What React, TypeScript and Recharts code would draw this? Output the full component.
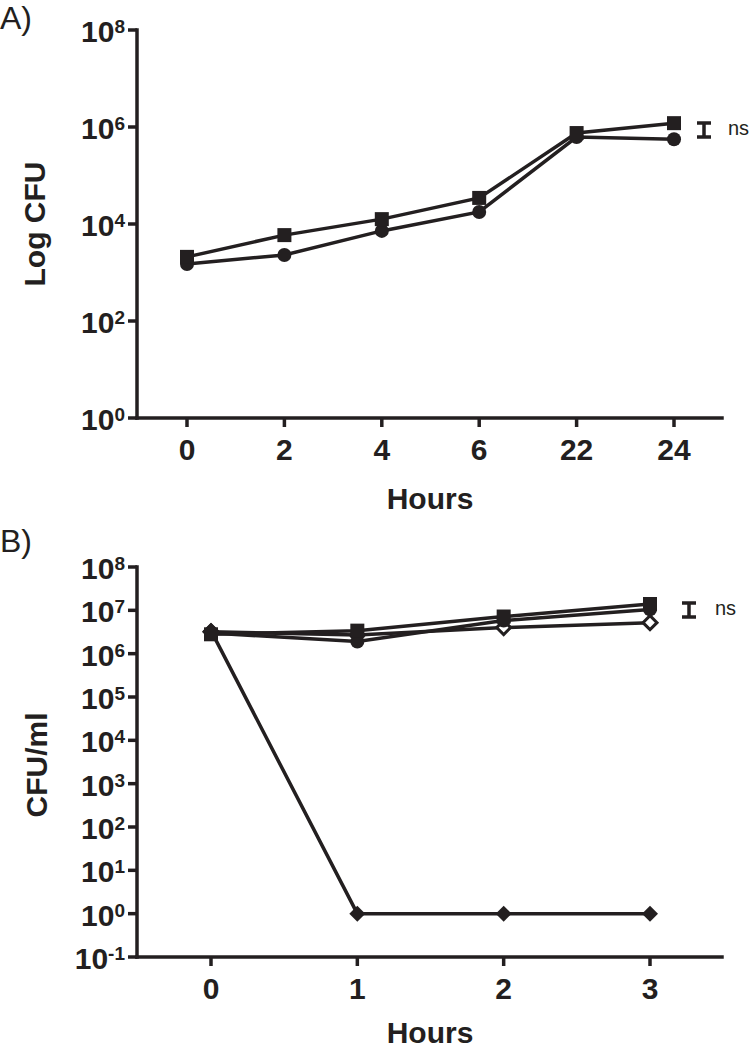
import React from "react";
import { LineChart, Line, XAxis, YAxis } from "recharts";

// panel A: growth over time
const hoursA = ["0", "2", "4", "6", "22", "24"];
const squaresA = [2100, 5900, 12600, 34500, 750000, 1200000];
const circlesA = [1500, 2300, 7200, 17700, 620000, 560000];
const ticksA = [1, 1e2, 1e4, 1e6, 1e8];

// panel B: killing assay
const hoursB = ["0", "1", "2", "3"];
const squaresB = [2.8e6, 3.4e6, 7.2e6, 1.4e7];
const circlesB = [3.0e6, 1.9e6, 5.8e6, 1.05e7];
const openDiamondsB = [3.2e6, 2.7e6, 4.0e6, 5.2e6];
const filledDiamondsB = [3.4e6, 1, 1, 1];
const ticksB = [0.1, 1, 10, 1e2, 1e3, 1e4, 1e5, 1e6, 1e7, 1e8];

const ink = "#231f20";
const font = "'Liberation Sans', Arial, Helvetica, sans-serif";

const dataA = hoursA.map((h, i) => ({ hour: h, sq: squaresA[i], ci: circlesA[i] }));
const dataB = hoursB.map((h, i) => ({
  hour: h,
  sq: squaresB[i],
  ci: circlesB[i],
  od: openDiamondsB[i],
  fd: filledDiamondsB[i],
}));

const PowTick = ({ x, y, payload }: any) => {
  const e = Math.round(Math.log10(payload.value));
  return (
    <text x={x} y={y + 12} textAnchor="end" fontSize={30} fontWeight="bold" fill={ink} fontFamily={font}>
      10
      <tspan dy={-9} fontSize={19}>
        {e}
      </tspan>
    </text>
  );
};

const HourTick = ({ x, y, payload }: any) => (
  <text x={x} y={y + 31} textAnchor="middle" fontSize={30} fontWeight="bold" fill={ink} fontFamily={font}>
    {payload.value}
  </text>
);

const square = (p: any) =>
  p.cx == null ? null : <rect key={p.key} x={p.cx - 7} y={p.cy - 7} width={14} height={14} fill={ink} />;
const circle = (p: any) =>
  p.cx == null ? null : <circle key={p.key} cx={p.cx} cy={p.cy} r={7} fill={ink} />;
const diamond = (p: any) =>
  p.cx == null ? null : (
    <polygon
      key={p.key}
      points={`${p.cx},${p.cy - 8} ${p.cx + 8},${p.cy} ${p.cx},${p.cy + 8} ${p.cx - 8},${p.cy}`}
      fill={ink}
    />
  );
const openDiamond = (p: any) =>
  p.cx == null ? null : (
    <polygon
      key={p.key}
      points={`${p.cx},${p.cy - 7} ${p.cx + 7},${p.cy} ${p.cx},${p.cy + 7} ${p.cx - 7},${p.cy}`}
      fill="#fff"
      stroke={ink}
      strokeWidth={3}
    />
  );

const axisStyle = { stroke: ink, strokeWidth: 3.5, strokeLinecap: "square" as const };

const SigBar = ({ x, y1, y2, tx }: any) => (
  <g>
    <path d={`M${x - 7},${y1} H${x + 7} M${x},${y1} V${y2} M${x - 7},${y2} H${x + 7}`} stroke={ink} strokeWidth={3.5} fill="none" />
    <text x={tx} y={(y1 + y2) / 2 + 5} fontSize={20} fill={ink} fontFamily={font}>
      ns
    </text>
  </g>
);

export default function App() {
  return (
    <div style={{ position: "absolute", left: 0, top: 0, width: 750, height: 1052, background: "#fff" }}>
      <div style={{ position: "absolute", left: 0, top: 0 }}>
        <LineChart width={750} height={526} data={dataA} margin={{ top: 30, right: 28, left: 0, bottom: 48 }}>
          <XAxis
            dataKey="hour"
            type="category"
            height={60}
            padding={{ left: 50, right: 48 }}
            axisLine={axisStyle}
            tickLine={{ stroke: ink, strokeWidth: 3.5 }}
            tickSize={9}
            tickMargin={2}
            tick={<HourTick />}
            interval={0}
          />
          <YAxis
            width={137}
            scale="log"
            type="number"
            domain={[1, 1e8]}
            ticks={ticksA}
            allowDataOverflow
            axisLine={axisStyle}
            tickLine={{ stroke: ink, strokeWidth: 3.5 }}
            tickSize={9}
            tickMargin={3}
            tick={<PowTick />}
            interval={0}
          />
          <Line dataKey="ci" stroke={ink} strokeWidth={3.5} dot={circle} isAnimationActive={false} />
          <Line dataKey="sq" stroke={ink} strokeWidth={3.5} dot={square} isAnimationActive={false} />
        </LineChart>
      </div>
      <div style={{ position: "absolute", left: 0, top: 526 }}>
        <LineChart width={750} height={526} data={dataB} margin={{ top: 41, right: 28, left: 0, bottom: 35 }}>
          <XAxis
            dataKey="hour"
            type="category"
            height={60}
            padding={{ left: 74, right: 72 }}
            axisLine={axisStyle}
            tickLine={{ stroke: ink, strokeWidth: 3.5 }}
            tickSize={9}
            tickMargin={2}
            tick={<HourTick />}
            interval={0}
          />
          <YAxis
            width={137}
            scale="log"
            type="number"
            domain={[0.1, 1e8]}
            ticks={ticksB}
            allowDataOverflow
            axisLine={axisStyle}
            tickLine={{ stroke: ink, strokeWidth: 3.5 }}
            tickSize={9}
            tickMargin={3}
            tick={<PowTick />}
            interval={0}
          />
          <Line dataKey="fd" stroke={ink} strokeWidth={3.5} dot={diamond} isAnimationActive={false} />
          <Line dataKey="od" stroke={ink} strokeWidth={3.5} dot={openDiamond} isAnimationActive={false} />
          <Line dataKey="ci" stroke={ink} strokeWidth={3.5} dot={circle} isAnimationActive={false} />
          <Line dataKey="sq" stroke={ink} strokeWidth={3.5} dot={square} isAnimationActive={false} />
        </LineChart>
      </div>
      <svg width={750} height={1052} style={{ position: "absolute", left: 0, top: 0, pointerEvents: "none" }}>
        <text x={0} y={29} fontSize={32} fill={ink} fontFamily={font}>
          A)
        </text>
        <text x={0} y={552} fontSize={32} fill={ink} fontFamily={font}>
          B)
        </text>
        <text x={45} y={224} transform="rotate(-90 45 224)" textAnchor="middle" fontSize={30} fontWeight="bold" fill={ink} fontFamily={font}>
          Log CFU
        </text>
        <text x={47} y={765} transform="rotate(-90 47 765)" textAnchor="middle" fontSize={30} fontWeight="bold" fill={ink} fontFamily={font}>
          CFU/ml
        </text>
        <text x={430} y={509} textAnchor="middle" fontSize={30} fontWeight="bold" fill={ink} fontFamily={font}>
          Hours
        </text>
        <text x={430} y={1043} textAnchor="middle" fontSize={30} fontWeight="bold" fill={ink} fontFamily={font}>
          Hours
        </text>
        <SigBar x={704} y1={123} y2={137} tx={728} />
        <SigBar x={689} y1={603} y2={617} tx={715} />
      </svg>
    </div>
  );
}
